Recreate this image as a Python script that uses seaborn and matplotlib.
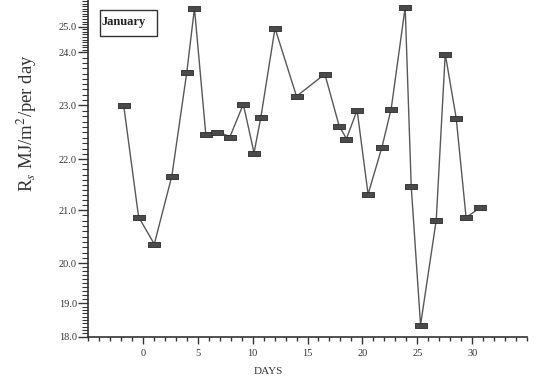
import numpy as np
import pandas as pd
import matplotlib
matplotlib.use("Agg")
import matplotlib.pyplot as plt
import seaborn as sns
from matplotlib.ticker import MultipleLocator, FixedLocator
from matplotlib.patches import Rectangle

# ---- data ----
days = [-1.75, -0.39, 1.04, 2.64, 4.0, 4.7, 5.73, 6.79, 7.94, 9.15,
        10.13, 10.76, 12.04, 14.0, 16.58, 17.88, 18.55, 19.52, 20.52, 21.79,
        22.63, 23.9, 24.45, 25.3, 26.73, 27.55, 28.55, 29.45, 30.76]
rs = [23.0, 20.87, 20.36, 21.67, 23.62, 25.72, 22.47, 22.51, 22.42, 23.02,
      22.12, 22.79, 24.94, 23.17, 23.59, 22.62, 22.38, 22.91, 21.31, 22.23,
      22.94, 25.76, 21.47, 18.35, 20.81, 23.97, 22.76, 20.86, 21.05]
x_tick_labels = ["0", "5", "10", "15", "20", "25", "30"]
y_tick_labels = ["18.0", "19.0", "20.0", "21.0", "22.0", "23.0", "24.0", "25.0"]
month = "January"

df = pd.DataFrame({"day": days, "rs": rs})

# ---- uneven vertical axis of the original drawing (piecewise-linear scale) ----
kv = np.array([18, 19, 20, 21, 22, 23, 24, 25, 26], float)
kp = np.array([0, 33.4, 73.4, 126.7, 177.4, 231.4, 284.4, 310.0, 335.6])

def _pw(v, a, b):
    v = np.asarray(v, float)
    out = np.interp(v, a, b)
    s0 = (b[1] - b[0]) / (a[1] - a[0])
    s1 = (b[-1] - b[-2]) / (a[-1] - a[-2])
    out = np.where(v < a[0], b[0] + (v - a[0]) * s0, out)
    out = np.where(v > a[-1], b[-1] + (v - a[-1]) * s1, out)
    return out

fwd = lambda v: _pw(v, kv, kp)
inv = lambda p: _pw(p, kp, kv)

sns.set_theme(style="ticks")
plt.rcParams["font.family"] = ["Liberation Serif", "DejaVu Serif"]
plt.rcParams["mathtext.fontset"] = "stix"

fig = plt.figure(figsize=(5.36, 3.76), dpi=100)
fig.patch.set_facecolor("white")
ax = fig.add_axes([88 / 536, 1 - 336.7 / 376, 439 / 536, 336.7 / 376])
ax.set_facecolor("white")
ax.set_yscale("function", functions=(fwd, inv))

rect_marker = [(-1, -0.45), (1, -0.45), (1, 0.45), (-1, 0.45), (-1, -0.45)]
sns.lineplot(data=df, x="day", y="rs", ax=ax, sort=False, color="#585858",
             linewidth=1.0, marker=rect_marker, markersize=8,
             markerfacecolor="#4a4a4a", markeredgecolor="#2a2a2a",
             markeredgewidth=0.6)

ax.set_xlim(-5, 35)
ax.set_ylim(18, 26.043)

xt = [float(t) for t in x_tick_labels]
ax.xaxis.set_major_locator(FixedLocator(xt))
ax.set_xticklabels(x_tick_labels)
ax.xaxis.set_minor_locator(MultipleLocator(1))
yt = [float(t) for t in y_tick_labels]
ax.yaxis.set_major_locator(FixedLocator(yt))
ax.set_yticklabels(y_tick_labels)
ax.yaxis.set_minor_locator(FixedLocator(np.arange(18, 26.05, 0.1)))

for sp in ["top", "right"]:
    ax.spines[sp].set_visible(False)
for sp in ["left", "bottom"]:
    ax.spines[sp].set_color("#333333")
    ax.spines[sp].set_linewidth(1.2)

ax.tick_params(axis="x", which="major", direction="out", length=5, width=1.0,
               pad=3.5, labelsize=7.5, colors="#333333")
ax.tick_params(axis="x", which="minor", direction="out", length=3, width=1.0,
               colors="#333333")
ax.tick_params(axis="y", which="major", direction="out", length=7, width=1.0,
               pad=1, labelsize=7.5, colors="#333333")
ax.tick_params(axis="y", which="minor", direction="out", length=4, width=0.8,
               colors="#333333")

ax.set_xlabel("DAYS", fontsize=8, color="#333333")
ax.xaxis.set_label_coords(0.41, -0.09)
ax.set_ylabel(r"R$_{s}$ MJ/m$^{2}$/per day", fontsize=13.5, color="#333333")
ax.yaxis.set_label_coords(-0.112, 0.635)

ax.add_patch(Rectangle((0.027, 0.893), 0.13, 0.077, transform=ax.transAxes,
                       facecolor="white", edgecolor="#333333", linewidth=1.0,
                       zorder=5))
ax.text(0.031, 0.934, month, transform=ax.transAxes, fontsize=9,
        fontweight="bold", va="center", ha="left", color="#222222", zorder=6)

fig.savefig("out.png", dpi=100)
